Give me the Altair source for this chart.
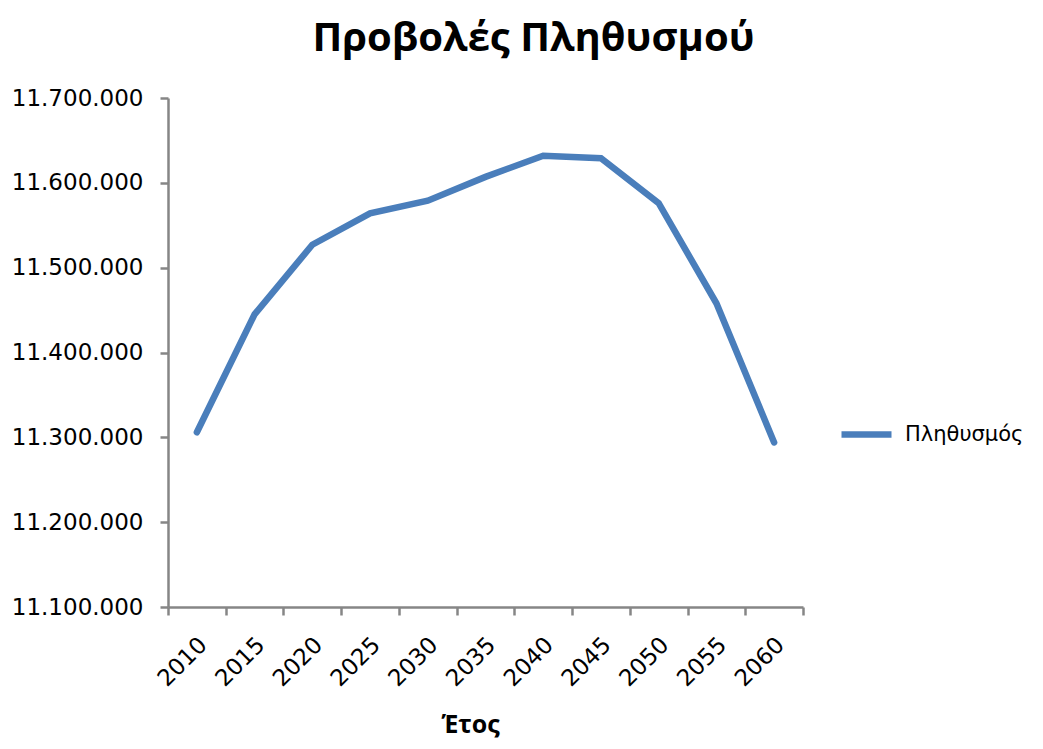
import altair as alt
import pandas as pd

years = ["2010", "2015", "2020", "2025", "2030", "2035", "2040", "2045", "2050", "2055", "2060"]
population = [11306000, 11445000, 11527000, 11564000, 11579000, 11607000,
              11632000, 11629000, 11576000, 11458000, 11294000]
series_name = "Πληθυσμός"

df = pd.DataFrame({"Έτος": years, "Πληθυσμός": population, "series": [series_name] * len(years)})

label_expr = ("format(floor(datum.value/1000000),'d') + '.' + "
              "format(floor(datum.value/1000)%1000,'03d') + '.' + "
              "format(datum.value%1000,'03d')")

axis_color = "#868686"

chart = alt.Chart(df).mark_line(strokeWidth=6.5, strokeCap="round", strokeJoin="miter").encode(
    x=alt.X("Έτος:O", sort=years,
            scale=alt.Scale(type="band", paddingInner=0, paddingOuter=0),
            axis=alt.Axis(title="Έτος", tickBand="extent", labelAngle=-45,
                          labelAlign="right", labelBaseline="middle",
                          labelFont="DejaVu Sans", labelFontSize=23, labelColor="#000000",
                          labelPadding=26, labelOffset=6,
                          titleFont="Open Sans", titleFontSize=25, titleFontWeight="bold",
                          titleColor="#000000", titlePadding=22, titleX=302,
                          domainColor=axis_color, domainWidth=2.5, tickColor=axis_color,
                          tickWidth=2.5, tickSize=8)),
    y=alt.Y("Πληθυσμός:Q",
            scale=alt.Scale(domain=[11100000, 11700000], zero=False, nice=False),
            axis=alt.Axis(title=None, values=[11100000, 11200000, 11300000, 11400000,
                                              11500000, 11600000, 11700000],
                          labelExpr=label_expr, labelFont="DejaVu Sans", labelFontSize=23,
                          labelColor="#000000", labelPadding=17, grid=False,
                          domainColor=axis_color, domainWidth=2.5, tickColor=axis_color,
                          tickWidth=2.5, tickSize=8)),
    color=alt.Color("series:N", scale=alt.Scale(range=["#4A7EBB"]),
                    legend=alt.Legend(title=None, orient="none", legendX=670, legendY=308,
                                      symbolType="stroke", symbolStrokeWidth=6.5, symbolSize=2500,
                                      labelFont="DejaVu Sans", labelFontSize=21,
                                      labelColor="#000000", labelOffset=10)),
).properties(
    width=635,
    height=509,
    title=alt.TitleParams("Προβολές Πληθυσμού", font="Open Sans", fontSize=40,
                          fontWeight="bold", color="#000000", anchor="middle",
                          dx=48, offset=28),
    autosize=alt.AutoSizeParams(type="none"),
    padding={"left": 160, "top": 90, "right": 232, "bottom": 134},
).configure_view(stroke=None)

chart.save("out.html", embed_options={"renderer": "svg", "actions": False})
